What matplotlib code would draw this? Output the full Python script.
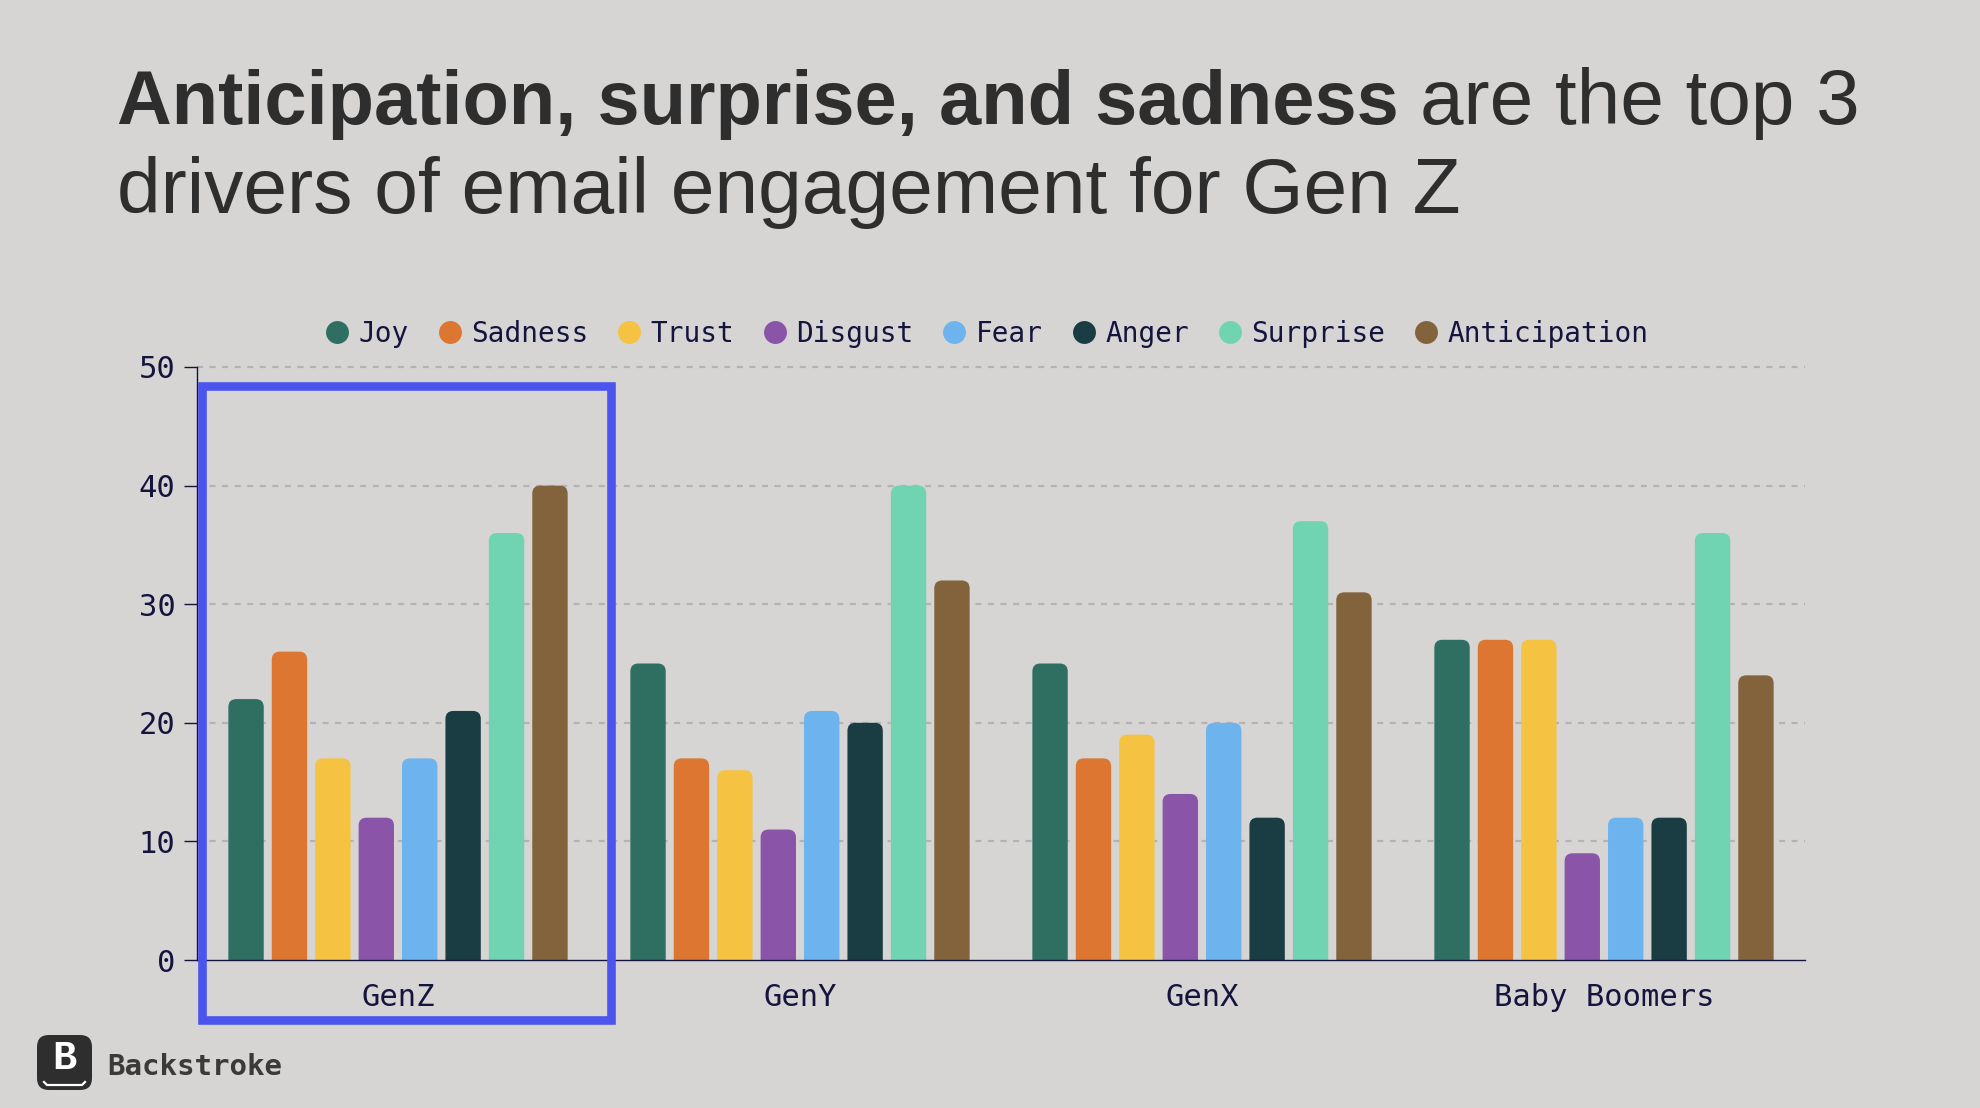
#!/usr/bin/env python3

import matplotlib
matplotlib.use('Agg')
import matplotlib.pyplot as plt
from matplotlib.lines import Line2D
from matplotlib.patches import FancyBboxPatch, Rectangle
import numpy as np

generations = ['GenZ', 'GenY', 'GenX', 'Baby Boomers']
emotions = ['Joy', 'Sadness', 'Trust', 'Disgust', 'Fear', 'Anger', 'Surprise', 'Anticipation']
colors = ['#2f6f61', '#dc7631', '#f5c242', '#8a55a8', '#6db4ee', '#1a3d44', '#70d4b2', '#82633c']

joy = [22, 25, 25, 27]
sadness = [26, 17, 17, 27]
trust = [17, 16, 19, 27]
disgust = [12, 11, 14, 9]
fear = [17, 21, 20, 12]
anger = [21, 20, 12, 12]
surprise = [36, 40, 37, 36]
anticipation = [40, 32, 31, 24]
series = [joy, sadness, trust, disgust, fear, anger, surprise, anticipation]

y_ticks = [0, 10, 20, 30, 40, 50]

W, H = 1980, 1108
BG = '#d6d5d3'
NAVY = '#14143f'
DARK = '#2e2e2e'
MONO = 'DejaVu Sans Mono'


def fx(px):
	return px / W


def fy(px):
	return 1 - px / H


def draw_bars(ax):
	x = np.arange(len(generations))
	pitch = 0.108
	width = 0.088
	# axes are 402 px per group and 11.87 px per unit
	r = 8 / 402
	aspect = (8 / 11.87) / r
	for i, values in enumerate(series):
		bars = ax.bar(x + (i - 3.5) * pitch, values, width, color=colors[i], zorder=3)
		for bar in bars:
			bar.set_visible(False)
			box = FancyBboxPatch((bar.get_x(), -2), bar.get_width(), bar.get_height() + 2,
				boxstyle='round,pad=0,rounding_size=%f' % r, mutation_aspect=aspect,
				facecolor=colors[i], edgecolor='none', zorder=3)
			ax.add_patch(box)


def main():
	fig = plt.figure(figsize=(W / 100, H / 100), dpi=100, facecolor=BG)
	ax = fig.add_axes([fx(197), fy(960), (1805 - 197) / W, (960 - 367) / H], facecolor='none')

	draw_bars(ax)

	ax.set_xlim(-0.5, len(generations) - 0.5)
	ax.set_ylim(0, 50)
	ax.set_yticks(y_ticks)
	ax.set_xticks(np.arange(len(generations)))
	ax.set_xticklabels(generations)
	ax.tick_params(axis='y', length=9.5, width=1, color=NAVY, labelcolor=NAVY, labelsize=22, pad=6)
	ax.tick_params(axis='x', length=0, labelcolor=NAVY, labelsize=22, pad=16.5)
	for label in ax.get_xticklabels() + ax.get_yticklabels():
		label.set_fontfamily(MONO)
	ax.grid(axis='y', color='#b4b2b6', linewidth=1.6, linestyle=(0, (2.7, 2.95)), zorder=1)
	ax.set_axisbelow(True)
	gridlines = ax.yaxis.get_gridlines()
	gridlines[0].set_visible(False)
	gridlines[-1].set_clip_on(False)
	for side in ['top', 'right']:
		ax.spines[side].set_visible(False)
	for side in ['left', 'bottom']:
		ax.spines[side].set_color(NAVY)
		ax.spines[side].set_linewidth(1)
		ax.spines[side].set_zorder(4)

	handles = [Line2D([], [], linestyle='none', marker='o', markersize=16.5, color=c, markeredgewidth=0) for c in colors]
	fig.legend(handles, emotions, loc='center', bbox_to_anchor=(fx(987), fy(334)), ncol=len(emotions),
		frameon=False, labelcolor=NAVY, prop={'family': MONO, 'size': 20},
		handlelength=0.83, handletextpad=0.36, columnspacing=1.05, borderpad=0, borderaxespad=0)

	# highlight around the first group
	fig.add_artist(Rectangle((fx(201.5), fy(1020)), (610.5 - 201.5) / W, (1020 - 385.5) / H,
		transform=fig.transFigure, fill=False, edgecolor='#4c54ee', linewidth=6.2, joinstyle='miter', zorder=5))

	# title
	title_font = 'Liberation Sans'
	fig.text(fx(117), fy(124), 'Anticipation, surprise, and sadness', family=title_font, weight='bold',
		size=54.6, color=DARK, va='baseline')
	fig.text(fx(1420), fy(124), 'are the top 3', family=title_font, size=56.3, color=DARK, va='baseline')
	fig.text(fx(117), fy(213), 'drivers of email engagement for Gen Z', family=title_font, size=56.5, color=DARK, va='baseline')

	# logo
	fig.add_artist(FancyBboxPatch((fx(37), fy(1090)), 55 / W, 55 / H, transform=fig.transFigure,
		boxstyle='round,pad=0,rounding_size=0.006', mutation_aspect=W / H, facecolor=DARK, edgecolor='none'))
	fig.text(fx(64.5), fy(1058), 'B', family='Liberation Mono', weight='bold', size=29, color='white', ha='center', va='center')
	fig.add_artist(Line2D([fx(44), fx(47), fx(82), fx(85)], [fy(1082), fy(1085), fy(1085), fy(1082)],
		color='white', linewidth=1.6, transform=fig.transFigure))
	fig.text(fx(107), fy(1075), 'Backstroke', family=MONO, weight='bold', size=21, color='#3a3a3a', va='baseline')

	fig.savefig('out.png', dpi=100, facecolor=BG)


if __name__ == "__main__":
	main()
